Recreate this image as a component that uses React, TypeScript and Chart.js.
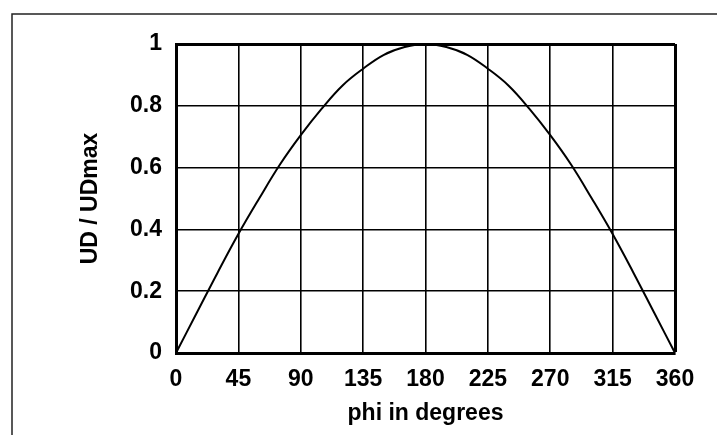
import React, { useEffect, useRef } from "react";
import { Chart, registerables } from "chart.js";

Chart.register(...registerables);

const phiDegrees = [0, 15, 30, 45, 60, 75, 90, 105, 120, 135, 150, 165, 180, 195, 210, 225, 240, 255, 270, 285, 300, 315, 330, 345, 360];
const udRatio = [0, 0.13, 0.26, 0.385, 0.5, 0.61, 0.705, 0.79, 0.865, 0.92, 0.965, 0.99, 1.0, 0.99, 0.965, 0.92, 0.865, 0.79, 0.705, 0.61, 0.5, 0.385, 0.26, 0.13, 0];
const xTicks = [0, 45, 90, 135, 180, 225, 270, 315, 360];
const yTicks = [0, 0.2, 0.4, 0.6, 0.8, 1];
const xTitle = "phi in degrees";
const yTitle = "UD / UDmax";

const FONT = "'Liberation Sans', Arial, sans-serif";

const framePlugin = {
  id: "outerFrame",
  beforeDraw(chart: any) {
    const ctx = chart.ctx;
    ctx.save();
    ctx.fillStyle = "#ffffff";
    ctx.fillRect(0, 0, chart.width, chart.height);
    ctx.strokeStyle = "#222222";
    ctx.lineWidth = 1.5;
    ctx.beginPath();
    ctx.moveTo(12, chart.height);
    ctx.lineTo(12, 14);
    ctx.lineTo(chart.width, 14);
    ctx.stroke();
    ctx.restore();
  },
};

export default function App() {
  const ref = useRef<HTMLCanvasElement>(null);
  useEffect(() => {
    if (!ref.current) return;
    const chart = new Chart(ref.current, {
      type: "line",
      data: {
        datasets: [
          {
            data: phiDegrees.map((x, i) => ({ x, y: udRatio[i] })),
            borderColor: "#000000",
            borderWidth: 2,
            pointRadius: 0,
            tension: 0.4,
            fill: false,
          },
        ],
      },
      options: {
        animation: false,
        responsive: false,
        maintainAspectRatio: false,
        layout: { padding: { top: 44, right: 42, left: 0, bottom: 0 } },
        plugins: { legend: { display: false }, tooltip: { enabled: false } },
        scales: {
          x: {
            type: "linear",
            min: 0,
            max: 360,
            afterBuildTicks: (s: any) => {
              s.ticks = xTicks.map((v) => ({ value: v }));
            },
            afterFit: (s: any) => {
              s.height = 82;
            },
            grid: {
              color: "#000000",
              lineWidth: (c: any) => (c.index === xTicks.length - 1 ? 3 : 1.6),
              drawTicks: false,
            },
            border: { display: true, color: "#000000", width: 3 },
            ticks: {
              color: "#000000",
              padding: 13,
              maxRotation: 0,
              autoSkip: false,
              font: { family: FONT, size: 23, weight: "bold" },
            },
            title: {
              display: true,
              text: xTitle,
              color: "#000000",
              font: { family: FONT, size: 23, weight: "bold" },
              padding: { top: 0, bottom: 8 },
            },
          },
          y: {
            type: "linear",
            min: 0,
            max: 1,
            afterBuildTicks: (s: any) => {
              s.ticks = yTicks.map((v) => ({ value: v }));
            },
            afterFit: (s: any) => {
              s.width = 176;
            },
            grid: {
              color: "#000000",
              lineWidth: (c: any) => (c.index === yTicks.length - 1 ? 3 : 1.6),
              drawTicks: false,
            },
            border: { display: true, color: "#000000", width: 3 },
            ticks: {
              color: "#000000",
              padding: 14,
              autoSkip: false,
              callback: (v: any) => String(Math.round(v * 10) / 10),
              font: { family: FONT, size: 23, weight: "bold" },
            },
            title: {
              display: true,
              text: yTitle,
              color: "#000000",
              font: { family: FONT, size: 23, weight: "bold" },
              padding: { top: 77, bottom: 0 },
            },
          },
        },
      },
      plugins: [framePlugin],
    } as any);
    return () => chart.destroy();
  }, []);
  return (
    <div style={{ position: "absolute", left: 0, top: 0, width: 717, height: 435 }}>
      <canvas ref={ref} width={717} height={435} style={{ width: 717, height: 435 }} />
    </div>
  );
}
